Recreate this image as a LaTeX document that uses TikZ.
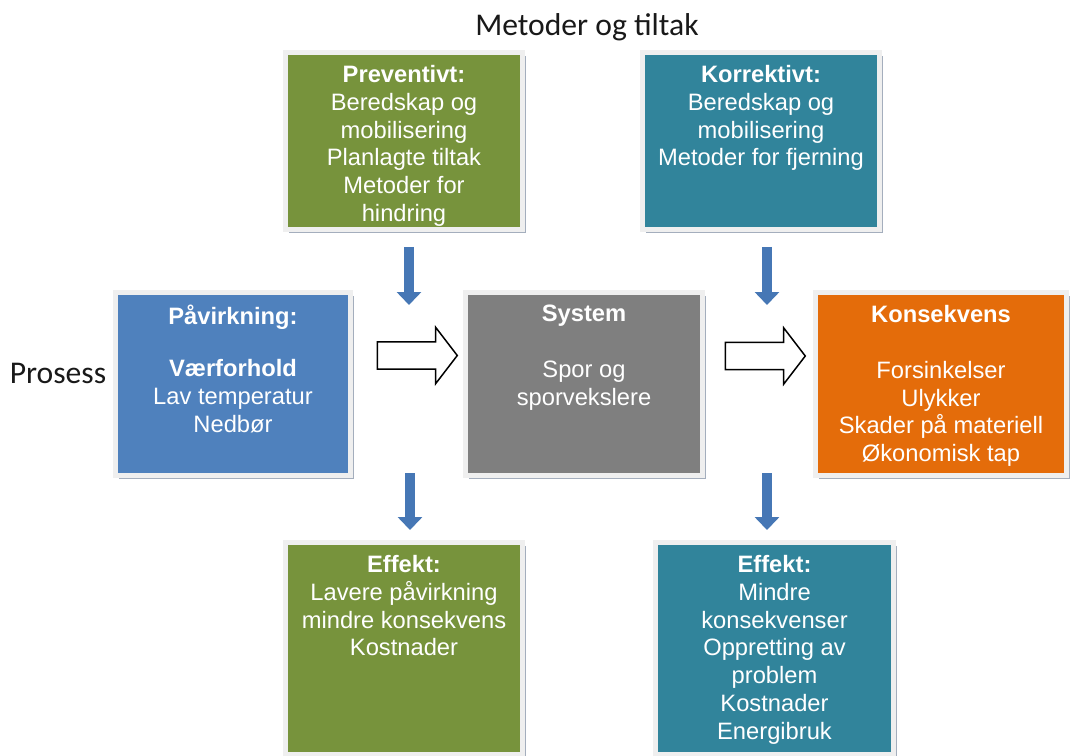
\documentclass[tikz,border=0pt]{standalone}
\usepackage{fontspec}
\setmainfont{Liberation Sans}
\newfontfamily\headfont{Carlito}
\usetikzlibrary{arrows.meta, positioning, shapes.arrows, shadows}

\definecolor{prevgreen}{HTML}{77933C}
\definecolor{korrteal}{HTML}{31849B}
\definecolor{pavblue}{HTML}{4F81BD}
\definecolor{sysgray}{HTML}{7F7F7F}
\definecolor{konsorange}{HTML}{E46C0A}
\definecolor{frame}{HTML}{EFEFEF}
\definecolor{shadowgray}{HTML}{9AA5B6}
\definecolor{arrowblue}{HTML}{4677B5}

\begin{document}
\begin{tikzpicture}[
    x=0.02cm, y=-0.02cm,
    box/.style={rectangle, draw=frame, line width=0.1cm, minimum width=4.74cm, minimum height=3.54cm,
        drop shadow={shadow xshift=0.07cm, shadow yshift=-0.07cm, fill=shadowgray, opacity=0.9}},
    boxtext/.style={anchor=north, inner sep=0pt, yshift=-0.3cm, text=white, align=center,
        font=\fontsize{13.5}{15.8}\selectfont},
    headtext/.style={inner sep=0pt, font=\headfont\fontsize{18}{21}\selectfont, text=black!90},
    harrow/.style={single arrow, draw=black, line width=0.03cm, fill=white, inner sep=0.26cm,
        minimum height=1.6cm, single arrow head extend=0.29cm, single arrow tip angle=105},
    downarrow/.style={arrowblue, line width=0.2cm, -{Triangle[width=0.48cm, length=0.26cm]}}
]
\useasboundingbox (0,0) rectangle (1071,756);

% Headings
\node[headtext] (metoder) at (587, 27) {Metoder og tiltak};
\node[headtext] (prosess) at (58, 373) {Prosess};

% Methods row
\node[box, fill=prevgreen, label={[boxtext]north:{\textbf{Preventivt:}\\Beredskap og\\mobilisering\\Planlagte tiltak\\Metoder for\\hindring}}] (prev) at (404, 141) {};
\node[box, fill=korrteal, label={[boxtext]north:{\textbf{Korrektivt:}\\Beredskap og\\mobilisering\\Metoder for fjerning}}] (korr) at (761, 141) {};

% Process row
\node[box, fill=pavblue, minimum width=4.7cm, minimum height=3.66cm, label={[boxtext]north:{\textbf{Påvirkning:}\\[13.6pt]\textbf{Værforhold}\\Lav temperatur\\Nedbør}}] (pav) at (233, 384) {};
\node[box, fill=sysgray, minimum height=3.66cm, label={[boxtext]north:{\textbf{System}\\[16pt]Spor og\\sporvekslere}}] (sys) at (584, 384) {};
\node[box, fill=konsorange, minimum width=5.02cm, minimum height=3.66cm, label={[boxtext]north:{\textbf{Konsekvens}\\[16pt]Forsinkelser\\Ulykker\\Skader på materiell\\Økonomisk tap}}] (kons) at (941, 384) {};

% Effect row
\node[box, fill=prevgreen, minimum height=4.24cm, label={[boxtext]north:{\textbf{Effekt:}\\Lavere påvirkning\\mindre konsekvens\\Kostnader}}] (effL) at (404, 648.5) {};
\node[box, fill=korrteal, minimum width=4.76cm, minimum height=4.24cm, label={[boxtext]north:{\textbf{Effekt:}\\Mindre\\konsekvenser\\Oppretting av\\problem\\Kostnader\\Energibruk}}] (effR) at (774.5, 648.5) {};

% Process arrows
\node[harrow] (harrowL) at (412, 355.5) {};
\node[harrow] (harrowR) at (760, 356) {};

% Ends of the blue arrows
\coordinate (prevtip) at (409, 305);
\coordinate (korrtip) at (767, 305);
\coordinate (effLtail) at (410, 473);
\coordinate (effRtail) at (767, 473);

\draw[downarrow, shorten <=0.3cm] (prev.south -| prevtip) -- (prevtip);
\draw[downarrow, shorten <=0.3cm] (korr.south -| korrtip) -- (korrtip);
\draw[downarrow, shorten >=0.2cm] (effLtail) -- (effLtail |- effL.north);
\draw[downarrow, shorten >=0.2cm] (effRtail) -- (effRtail |- effR.north);

\end{tikzpicture}
\end{document}
